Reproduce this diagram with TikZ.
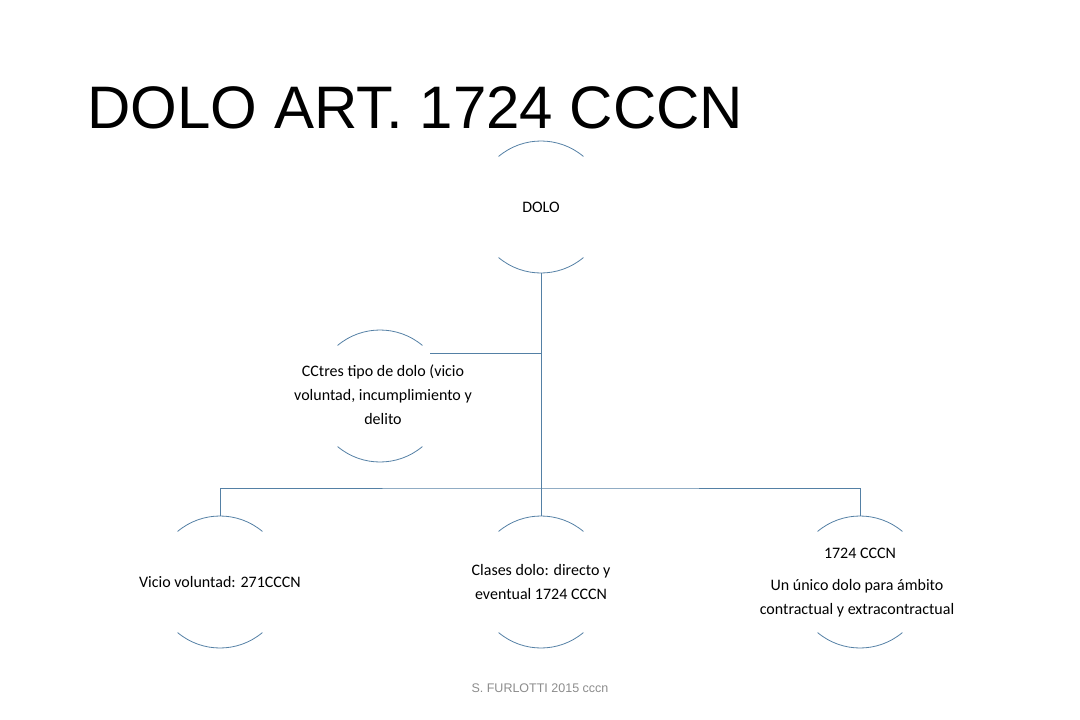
\documentclass[tikz,border=0pt]{standalone}
\usepackage{fontspec}
\setmainfont{Carlito}
\newfontfamily\arialf{Liberation Sans}
\definecolor{ln}{RGB}{84,128,165}
\begin{document}
\begin{tikzpicture}[x=1pt,y=-1pt,
  arcs/.style={draw=ln,line width=0.8pt},
  conn/.style={draw=ln,line width=0.8pt},
  lbl/.style={font=\fontsize{16}{24}\selectfont,align=center,text=black}]
\useasboundingbox (0,0) rectangle (1080,720);
\newcommand{\halfcirc}[3]{%
  \draw[arcs] (#1,#2) ++(130:#3) arc[start angle=130,end angle=50,radius=#3];
  \draw[arcs] (#1,#2) ++(230:#3) arc[start angle=230,end angle=310,radius=#3];}
\node[anchor=base west,font=\arialf\fontsize{60}{60}\selectfont] (title) at (84,128) {DOLO ART. 1724 CCCN};
\coordinate (c0) at (541,207);
\coordinate (c1) at (380,396);
\coordinate (c2) at (220,582);
\coordinate (c3) at (541,582);
\coordinate (c4) at (860,582);
\halfcirc{541}{207}{66}
\halfcirc{380}{396}{66}
\halfcirc{220}{582}{66}
\halfcirc{541}{582}{66}
\halfcirc{860}{582}{66}
\coordinate (b0) at (541,273);
\coordinate (j1) at (541,353);
\coordinate (e1) at (430,353);
\coordinate (bus) at (541,488);
\coordinate (t2) at (220,516);
\coordinate (t3) at (541,516);
\coordinate (t4) at (860,516);
\draw[conn] (b0) -- (t3);
\draw[conn] (j1) -- (e1);
\draw[conn] (t2) |- (bus) -| (t4);
\node[lbl] (n0) at (541,207) {DOLO};
\node[lbl] (n1) at (383,395) {CCtres tipo de dolo (vicio\\voluntad, incumplimiento y\\delito};
\node[lbl] (n2) at (220,582) {Vicio voluntad: 271CCCN};
\node[lbl] (n3) at (541,582) {Clases dolo: directo y\\eventual 1724 CCCN};
\node[lbl] (n4a) at (860,553) {1724 CCCN};
\node[lbl] (n4) at (857,598) {Un único dolo para ámbito\\contractual y extracontractual};
\node[font=\arialf\fontsize{12.5}{14}\selectfont,text=black!45] (foot) at (540,688) {S. FURLOTTI 2015 cccn};
\end{tikzpicture}
\end{document}
